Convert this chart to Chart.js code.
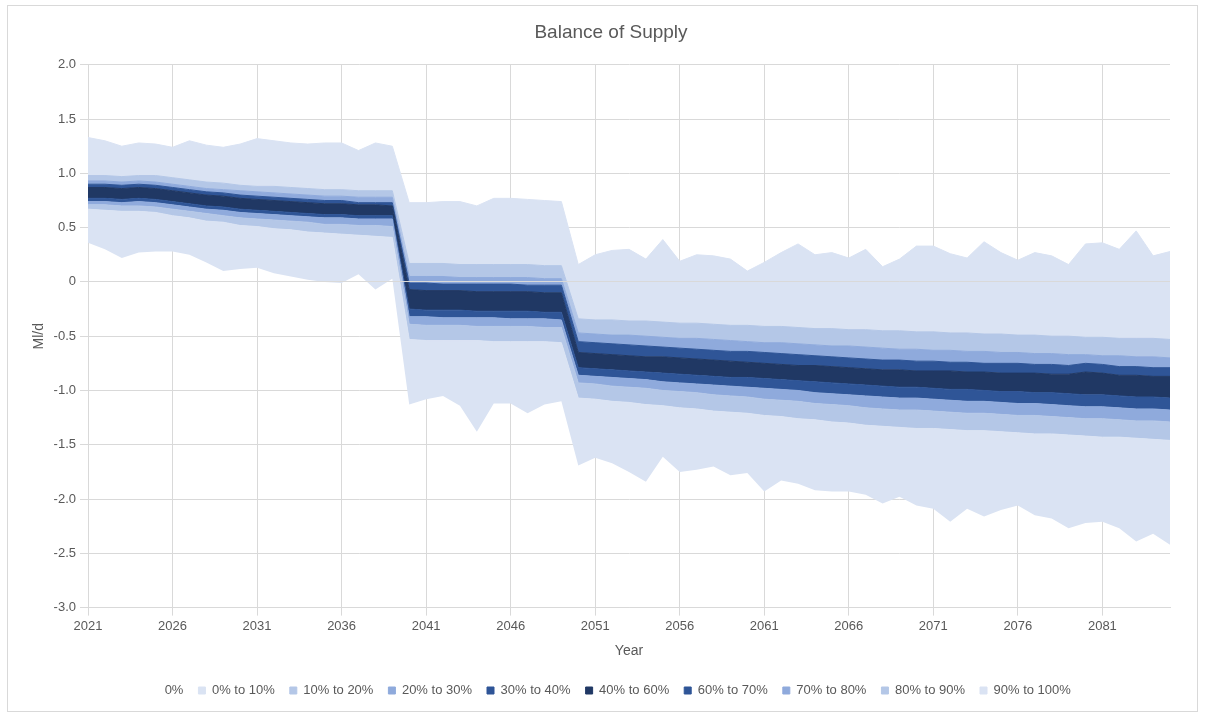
<!DOCTYPE html>
<html>
<head>
<meta charset="utf-8">
<title>Balance of Supply</title>
<script src="https://cdn.jsdelivr.net/npm/chart.js@4.4.1/dist/chart.umd.min.js"></script>
<style>
  html, body { margin: 0; padding: 0; background: #ffffff; }
  canvas { display: block; }
</style>
</head>
<body>
<canvas id="supplyChart" width="1205" height="713"></canvas>
<script>
// Modelled years and the years that carry an axis label
const years = Array.from({ length: 65 }, (_, i) => String(2021 + i));
const labelledYears = ['2021', '2026', '2031', '2036', '2041', '2046', '2051',
                       '2056', '2061', '2066', '2071', '2076', '2081'];

// Percentile boundaries of the balance of supply (Ml/d), one value per year 2021-2085
const pct0 = [
  0.36, 0.30, 0.22, 0.27, 0.28, 0.28, 0.25, 0.18, 0.10, 0.12, 0.13, 0.08, 0.05, 0.02, 0.00, -0.01, 0.07, -0.07, 0.03,
  -1.13, -1.08, -1.05, -1.14, -1.38, -1.12, -1.12, -1.21, -1.13, -1.10,
  -1.69, -1.62, -1.67, -1.75, -1.84, -1.61, -1.75, -1.73, -1.70, -1.78, -1.76, -1.93, -1.83, -1.86, -1.92, -1.93,
  -1.93, -1.96, -2.04, -1.98, -2.06, -2.09, -2.21, -2.09, -2.16, -2.10, -2.06, -2.15, -2.18, -2.27, -2.22, -2.21,
  -2.27, -2.39, -2.32, -2.42
];
const pct10 = [
  0.67, 0.66, 0.65, 0.65, 0.64, 0.61, 0.59, 0.56, 0.55, 0.52, 0.51, 0.49, 0.48, 0.46, 0.45, 0.44, 0.43, 0.42, 0.41,
  -0.53, -0.54, -0.54, -0.54, -0.54, -0.55, -0.55, -0.55, -0.55, -0.56,
  -1.07, -1.08, -1.10, -1.11, -1.13, -1.14, -1.16, -1.17, -1.19, -1.20, -1.21, -1.23, -1.24, -1.26, -1.27, -1.29,
  -1.30, -1.32, -1.33, -1.34, -1.35, -1.35, -1.36, -1.37, -1.37, -1.38, -1.39, -1.40, -1.40, -1.41, -1.42, -1.43,
  -1.43, -1.44, -1.45, -1.46
];
const pct20 = [
  0.71, 0.71, 0.70, 0.70, 0.69, 0.67, 0.65, 0.63, 0.61, 0.59, 0.58, 0.57, 0.56, 0.55, 0.53, 0.53, 0.52, 0.52, 0.51,
  -0.39, -0.40, -0.40, -0.40, -0.41, -0.41, -0.41, -0.41, -0.42, -0.42,
  -0.93, -0.94, -0.96, -0.97, -0.98, -1.00, -1.01, -1.02, -1.04, -1.05, -1.06, -1.08, -1.09, -1.10, -1.12, -1.13,
  -1.14, -1.16, -1.17, -1.18, -1.18, -1.19, -1.20, -1.21, -1.21, -1.22, -1.23, -1.23, -1.24, -1.25, -1.26, -1.26,
  -1.27, -1.28, -1.28, -1.29
];
const pct30 = [
  0.74, 0.74, 0.73, 0.74, 0.73, 0.71, 0.69, 0.67, 0.66, 0.64, 0.63, 0.62, 0.61, 0.60, 0.59, 0.59, 0.58, 0.58, 0.58,
  -0.32, -0.32, -0.33, -0.33, -0.33, -0.33, -0.34, -0.34, -0.34, -0.35,
  -0.86, -0.87, -0.88, -0.89, -0.90, -0.92, -0.93, -0.94, -0.95, -0.96, -0.97, -0.98, -0.99, -1.00, -1.02, -1.03,
  -1.04, -1.05, -1.06, -1.07, -1.07, -1.08, -1.09, -1.10, -1.10, -1.11, -1.12, -1.12, -1.13, -1.14, -1.15, -1.15,
  -1.16, -1.17, -1.17, -1.18
];
const pct40 = [
  0.77, 0.77, 0.76, 0.77, 0.76, 0.74, 0.72, 0.70, 0.69, 0.67, 0.66, 0.65, 0.64, 0.63, 0.62, 0.62, 0.61, 0.61, 0.61,
  -0.25, -0.26, -0.26, -0.26, -0.27, -0.27, -0.27, -0.27, -0.28, -0.28,
  -0.79, -0.80, -0.81, -0.82, -0.83, -0.84, -0.85, -0.86, -0.87, -0.88, -0.88, -0.89, -0.90, -0.91, -0.92, -0.93,
  -0.94, -0.95, -0.96, -0.97, -0.97, -0.98, -0.99, -0.99, -1.00, -1.01, -1.01, -1.02, -1.02, -1.03, -1.04, -1.04,
  -1.05, -1.06, -1.06, -1.07
];
const pct60 = [
  0.87, 0.87, 0.86, 0.87, 0.86, 0.84, 0.82, 0.80, 0.79, 0.77, 0.76, 0.75, 0.74, 0.73, 0.72, 0.72, 0.71, 0.71, 0.70,
  -0.07, -0.08, -0.08, -0.08, -0.09, -0.09, -0.09, -0.09, -0.10, -0.10,
  -0.65, -0.66, -0.67, -0.68, -0.69, -0.69, -0.70, -0.71, -0.72, -0.73, -0.74, -0.75, -0.76, -0.77, -0.77, -0.78,
  -0.79, -0.80, -0.81, -0.81, -0.82, -0.82, -0.82, -0.83, -0.83, -0.84, -0.84, -0.84, -0.85, -0.85, -0.83, -0.84,
  -0.86, -0.86, -0.87, -0.87
];
const pct70 = [
  0.90, 0.90, 0.89, 0.90, 0.89, 0.87, 0.85, 0.83, 0.82, 0.80, 0.79, 0.78, 0.77, 0.76, 0.75, 0.75, 0.73, 0.73, 0.73,
  -0.01, -0.01, -0.02, -0.02, -0.02, -0.02, -0.02, -0.03, -0.03, -0.03,
  -0.55, -0.56, -0.57, -0.58, -0.59, -0.60, -0.61, -0.62, -0.63, -0.64, -0.64, -0.65, -0.66, -0.67, -0.68, -0.69,
  -0.70, -0.71, -0.72, -0.72, -0.73, -0.73, -0.74, -0.74, -0.75, -0.75, -0.75, -0.76, -0.76, -0.77, -0.75, -0.76,
  -0.78, -0.78, -0.79, -0.79
];
const pct80 = [
  0.93, 0.93, 0.92, 0.93, 0.92, 0.90, 0.88, 0.86, 0.85, 0.84, 0.83, 0.82, 0.81, 0.80, 0.79, 0.79, 0.78, 0.78, 0.78,
  0.05, 0.05, 0.05, 0.04, 0.04, 0.04, 0.04, 0.04, 0.03, 0.03,
  -0.47, -0.48, -0.49, -0.49, -0.50, -0.51, -0.52, -0.52, -0.53, -0.54, -0.55, -0.56, -0.56, -0.57, -0.58, -0.59,
  -0.59, -0.60, -0.61, -0.62, -0.62, -0.63, -0.63, -0.64, -0.64, -0.65, -0.65, -0.66, -0.66, -0.67, -0.67, -0.68,
  -0.68, -0.69, -0.69, -0.70
];
const pct90 = [
  0.98, 0.98, 0.97, 0.98, 0.98, 0.96, 0.94, 0.92, 0.91, 0.89, 0.88, 0.88, 0.87, 0.86, 0.85, 0.85, 0.84, 0.84, 0.84,
  0.17, 0.17, 0.17, 0.16, 0.16, 0.16, 0.16, 0.16, 0.15, 0.15,
  -0.34, -0.35, -0.35, -0.36, -0.36, -0.37, -0.38, -0.38, -0.39, -0.40, -0.40, -0.41, -0.41, -0.42, -0.43, -0.43,
  -0.44, -0.44, -0.45, -0.45, -0.46, -0.46, -0.47, -0.47, -0.48, -0.48, -0.49, -0.49, -0.50, -0.50, -0.51, -0.51,
  -0.52, -0.52, -0.52, -0.53
];
const pct100 = [
  1.33, 1.30, 1.25, 1.28, 1.27, 1.24, 1.30, 1.26, 1.24, 1.27, 1.32, 1.30, 1.28, 1.27, 1.28, 1.28, 1.21, 1.28, 1.25,
  0.73, 0.73, 0.74, 0.74, 0.70, 0.77, 0.77, 0.76, 0.75, 0.74,
  0.16, 0.25, 0.29, 0.30, 0.21, 0.39, 0.19, 0.25, 0.24, 0.21, 0.10, 0.18, 0.27, 0.35, 0.25, 0.27,
  0.22, 0.30, 0.14, 0.21, 0.33, 0.33, 0.26, 0.22, 0.37, 0.27, 0.20, 0.27, 0.24, 0.16, 0.35, 0.36,
  0.30, 0.47, 0.24, 0.28
];

// Series names, lowest boundary first; each band fills down to the previous boundary
const seriesNames = ['0%', '0% to 10%', '10% to 20%', '20% to 30%', '30% to 40%',
                     '40% to 60%', '60% to 70%', '70% to 80%', '80% to 90%', '90% to 100%'];
const boundaries = [pct0, pct10, pct20, pct30, pct40, pct60, pct70, pct80, pct90, pct100];

// Fan colours, outer bands lightest
const bandColours = ['rgba(0,0,0,0)', '#dae3f3', '#b4c7e7', '#8faadc', '#2f5597',
                     '#203864', '#2f5597', '#8faadc', '#b4c7e7', '#dae3f3'];

const textGrey = '#595959';
const lineGrey = '#d9d9d9';
Chart.defaults.font.family = "'Liberation Sans', Arial, sans-serif";

// White background and light chart border
const chartFrame = {
  id: 'chartFrame',
  beforeDraw(chart) {
    const { ctx, width, height } = chart;
    ctx.save();
    ctx.fillStyle = '#ffffff';
    ctx.fillRect(0, 0, width, height);
    ctx.strokeStyle = lineGrey;
    ctx.lineWidth = 1;
    ctx.strokeRect(7.5, 5.5, width - 15, height - 7);
    ctx.restore();
  }
};

// Horizontal category axis crosses at zero and sits above the bands
const zeroAxis = {
  id: 'zeroAxis',
  afterDatasetsDraw(chart) {
    const { ctx, chartArea, scales } = chart;
    const py = Math.round(scales.y.getPixelForValue(0) - 0.5) + 0.5;
    ctx.save();
    ctx.strokeStyle = lineGrey;
    ctx.lineWidth = 1;
    ctx.beginPath();
    ctx.moveTo(chartArea.left, py);
    ctx.lineTo(chartArea.right, py);
    ctx.stroke();
    ctx.restore();
  }
};

const datasets = boundaries.map((values, i) => ({
  label: seriesNames[i],
  data: values,
  fill: i === 0 ? false : '-1',
  backgroundColor: bandColours[i],
  borderColor: bandColours[i],
  borderWidth: i === 0 ? 0 : 1,
  pointRadius: 0,
  pointHoverRadius: 0,
  tension: 0
}));

new Chart(document.getElementById('supplyChart'), {
  type: 'line',
  data: { labels: years, datasets },
  plugins: [chartFrame, zeroAxis],
  options: {
    responsive: false,
    animation: false,
    devicePixelRatio: 1,
    layout: { padding: { left: 25, right: 8, top: 0, bottom: 6 } },
    interaction: { mode: 'index', intersect: false },
    plugins: {
      title: {
        display: true,
        text: 'Balance of Supply',
        color: textGrey,
        font: { size: 19, weight: 'normal' },
        padding: { top: 21, bottom: 21 }
      },
      legend: {
        position: 'bottom',
        labels: {
          boxWidth: 7,
          boxHeight: 7,
          padding: 15,
          color: textGrey,
          font: { size: 13 }
        }
      },
      tooltip: { enabled: false }
    },
    scales: {
      x: {
        type: 'category',
        offset: false,
        grid: {
          color: (c) => (c.index % 5 === 0 ? lineGrey : 'rgba(0,0,0,0)'),
          tickLength: 8
        },
        border: { color: lineGrey },
        ticks: {
          autoSkip: false,
          maxRotation: 0,
          minRotation: 0,
          padding: 3,
          color: textGrey,
          font: { size: 13 },
          callback(value) {
            const year = this.getLabelForValue(value);
            return labelledYears.includes(year) ? year : '';
          }
        },
        title: {
          display: true,
          text: 'Year',
          color: textGrey,
          font: { size: 14 },
          padding: { top: 6, bottom: 9 }
        },
        afterFit(scale) { scale.paddingRight = 35; }
      },
      y: {
        min: -3,
        max: 2,
        grid: { color: lineGrey, tickLength: 8 },
        border: { color: lineGrey },
        ticks: {
          stepSize: 0.5,
          padding: 4,
          color: textGrey,
          font: { size: 13 },
          callback: (v) => (Math.abs(v) < 1e-9 ? '0' : v.toFixed(1))
        },
        title: {
          display: true,
          text: 'Ml/d',
          color: textGrey,
          font: { size: 14 },
          padding: { top: 6, bottom: 0 }
        },
        afterFit(scale) { scale.width = 63; }
      }
    }
  }
});
</script>
</body>
</html>
